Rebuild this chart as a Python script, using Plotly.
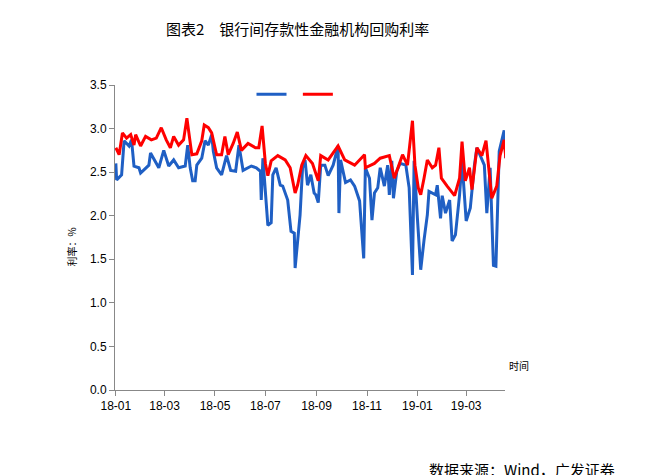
import plotly.graph_objects as go
import pandas as pd

base = pd.Timestamp("2018-01-01")
blue_days = [0,1,7,10,16,19,22,28,30,40,42,52,58,64,70,76,84,87,90,93,96,98,104,108,112,116,118,122,128,134,139,145,149,154,164,170,175,176,178,181,184,188,190,194,199,202,208,212,216,217,223,226,229,232,236,240,242,245,248,253,257,263,269,270,272,278,284,289,295,300,302,307,310,313,317,320,325,329,331,334,336,340,344,351,355,359,361,365,369,373,377,379,387,389,393,395,399,404,407,411,416,419,424,429,434,437,446,449,453,457,460,464,470,472]
blue_vals = [2.60,2.41,2.47,2.86,2.80,2.87,2.57,2.55,2.49,2.58,2.72,2.55,2.75,2.57,2.64,2.55,2.57,2.81,2.55,2.40,2.40,2.58,2.66,2.86,2.81,2.93,2.74,2.55,2.47,2.69,2.52,2.51,2.81,2.52,2.57,2.55,2.51,2.18,2.66,2.32,1.89,1.92,2.47,2.55,2.35,2.34,2.18,1.82,1.80,1.40,2.01,2.55,2.64,2.35,2.47,2.26,2.24,2.15,2.58,2.58,2.46,2.58,2.80,2.03,2.64,2.38,2.41,2.34,2.17,1.51,2.55,2.43,1.95,2.26,2.32,2.55,2.34,2.58,2.24,2.63,2.20,2.51,2.60,2.58,2.32,1.32,2.63,1.97,1.38,1.72,2.01,2.28,2.24,2.35,1.97,2.23,2.03,2.18,1.71,1.78,2.24,2.63,1.94,2.09,2.58,2.78,2.58,2.03,2.55,1.43,1.42,2.74,2.98,2.66]
red_days = [0,4,8,13,18,22,24,30,36,43,49,55,61,66,70,76,82,86,92,98,104,107,112,116,122,128,132,136,142,147,152,160,169,173,177,181,184,188,196,205,211,217,220,225,230,238,245,248,257,269,277,289,301,302,313,320,331,337,347,353,359,362,366,369,373,377,383,387,391,394,401,410,416,419,423,428,431,437,443,448,455,461,465,470,472]
red_vals = [2.78,2.70,2.95,2.89,2.93,2.81,2.93,2.80,2.91,2.87,2.89,3.01,2.87,2.78,2.91,2.81,2.87,3.12,2.70,2.71,2.86,3.04,3.01,2.95,2.70,2.70,2.91,2.70,2.83,2.96,2.75,2.83,2.78,2.78,3.03,2.60,2.46,2.63,2.69,2.64,2.55,2.26,2.35,2.58,2.69,2.60,2.40,2.69,2.64,2.80,2.64,2.58,2.70,2.55,2.60,2.66,2.69,2.43,2.70,2.58,3.09,2.58,2.32,2.24,2.43,2.64,2.55,2.58,2.78,2.43,2.34,2.23,2.43,2.85,2.40,2.55,2.30,2.78,2.69,2.86,2.20,2.34,2.69,2.87,2.66]
x_ticks = ["2018-01-01","2018-03-01","2018-05-01","2018-07-01","2018-09-01","2018-11-01","2019-01-01","2019-03-01"]
x_labels = ["18-01","18-03","18-05","18-07","18-09","18-11","19-01","19-03"]

bx = [base + pd.Timedelta(days=d) for d in blue_days]
rx = [base + pd.Timedelta(days=d) for d in red_days]
font = "Noto Sans CJK SC"
fig = go.Figure()
fig.add_trace(go.Scatter(x=bx, y=blue_vals, mode="lines", name=" ", line=dict(color="#1F5FC4", width=3)))
fig.add_trace(go.Scatter(x=rx, y=red_vals, mode="lines", name=" ", line=dict(color="#FF0000", width=3)))
fig.update_layout(
    width=651, height=475, plot_bgcolor="white", paper_bgcolor="white",
    margin=dict(l=107, r=154, t=77, b=93, autoexpand=False),
    font=dict(family=font, size=12, color="black"),
    showlegend=True,
    legend=dict(orientation="h", x=0.35, y=0.97, xanchor="left", yanchor="middle", font=dict(size=6), itemwidth=30, bgcolor="rgba(0,0,0,0)"),
    title=dict(text="图表2　银行间存款性金融机构回购利率", x=0.445, xanchor="center", y=0.965, font=dict(size=15, family=font)),
)
fig.update_xaxes(range=["2017-12-31", "2019-04-17"], tickvals=x_ticks, ticktext=x_labels, ticks="outside", automargin=False,
                 showline=True, linecolor="#888", tickcolor="#888", showgrid=False, tickfont=dict(family="Liberation Sans", size=12))
fig.update_yaxes(range=[0, 3.5], dtick=0.5, tickformat=".1f", ticks="outside", showline=True, linecolor="#888", automargin=False,
                 tickcolor="#888", showgrid=False, zeroline=False, tickfont=dict(family="Liberation Sans", size=12))
fig.add_annotation(text="利率：%", textangle=-90, x=-0.135, y=0.47, xref="paper", yref="paper", showarrow=False, font=dict(size=10))
fig.add_annotation(text="时间", x=1.005, y=0.05, xref="paper", yref="paper", xanchor="left", showarrow=False, font=dict(size=10))
fig.add_annotation(text="数据来源：Wind，广发证券", x=0.80, y=-0.26, xref="paper", yref="paper", xanchor="left", yanchor="middle",
                   showarrow=False, font=dict(size=15))
fig.write_html("out.html")
